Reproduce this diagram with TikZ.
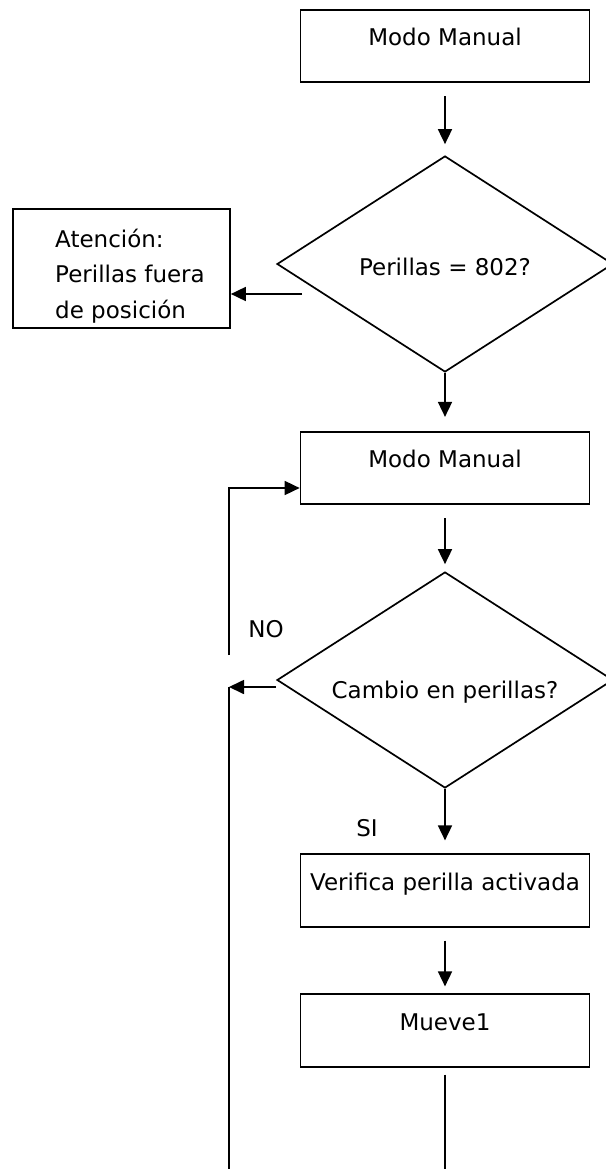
\documentclass[tikz,border=0pt]{standalone}
\usepackage{fontspec}
\setmainfont{DejaVu Sans}
\usetikzlibrary{shapes.geometric, arrows.meta}

\begin{document}
\begin{tikzpicture}[
    x=1pt, y=-1pt,
    font=\fontsize{23}{35.5}\selectfont,
    box/.style={draw, line width=1.7pt, minimum width=289pt, inner sep=0pt, text height=36pt, text depth=36.5pt},
    decision/.style={draw, diamond, line width=1.7pt, minimum width=336pt, minimum height=216pt, aspect=1.55, inner sep=0pt},
    arrow/.style={-{Triangle[length=15pt, width=14pt]}, line width=1.7pt},
    line/.style={line width=1.7pt}
]
    \useasboundingbox (0,0) rectangle (605,1169);

    % Main column
    \node[box] (m1) at (445,46) {Modo Manual};
    \node[decision, text height=24pt, text depth=2pt] (d1) at (445,264) {Perillas = 802?};
    \node[box] (m2) at (445,468) {Modo Manual};
    \node[decision, text height=40pt, text depth=3pt] (d2) at (445,680) {Cambio en perillas?};
    \node[box] (m3) at (445,890.5) {Verifica perilla activada};
    \node[box] (m4) at (445,1030.5) {Mueve1};

    % Warning box
    \node[draw, line width=1.7pt, minimum width=217pt, minimum height=119pt] (aviso) at (121.5,268.5) {};
    \node[anchor=west, align=left, inner sep=0pt] (avisotxt) at (55,276) {Atención:\\Perillas fuera\\de posición};

    % Labels
    \node (no) at (266,629) {NO};
    \node (si) at (367,828) {SI};

    % Loose ends
    \coordinate (p1) at (302,294);
    \coordinate (lp) at (229,655);
    \coordinate (rt) at (229,687);
    \coordinate (fin) at (445,1169);

    % Arrows
    \draw[arrow, shorten <=13pt, shorten >=11pt] (m1) -- (d1);
    \draw[arrow, shorten >=14pt] (d1) -- (m2);
    \draw[arrow, shorten <=13pt, shorten >=7pt] (m2) -- (d2);
    \draw[arrow, shorten >=13pt] (d2) -- (m3);
    \draw[arrow, shorten <=13pt, shorten >=7pt] (m3) -- (m4);
    \draw[line, shorten <=7pt] (m4) -- (fin);

    \draw[arrow] (p1) -- (p1 -| aviso.east);
    \draw[arrow] (lp) |- ([yshift=-20pt]m2.west);
    \draw[arrow] ([yshift=-7pt]d2.west) -- (rt);
    \draw[line] (rt) -- (rt |- fin);
\end{tikzpicture}
\end{document}
